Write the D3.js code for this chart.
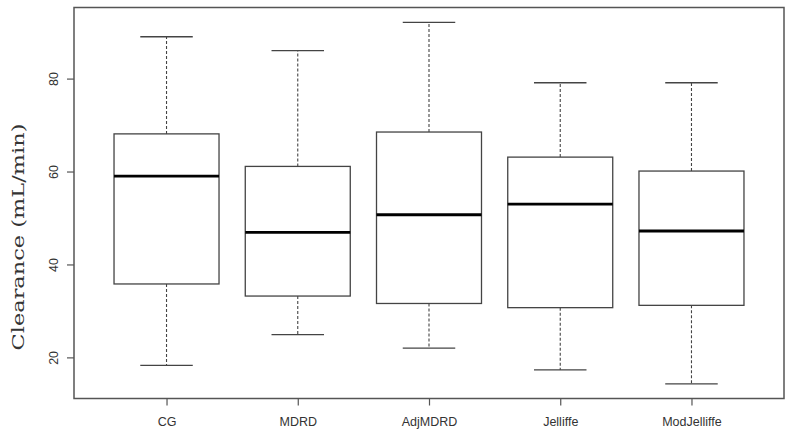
<!DOCTYPE html>
<html>
<head>
<meta charset="utf-8">
<script src="https://cdn.jsdelivr.net/npm/d3@7"></script>
<style>
  html, body { margin: 0; padding: 0; background: #fff; }
</style>
</head>
<body>
<svg id="chart"></svg>
<script>
// box statistics
const categories = ['CG', 'MDRD', 'AdjMDRD', 'Jelliffe', 'ModJelliffe'];
const mins    = [18.3, 24.9, 22.0, 17.3, 14.3];
const q1s     = [35.8, 33.2, 31.6, 30.7, 31.2];
const medians = [59.0, 46.9, 50.7, 53.0, 47.2];
const q3s     = [68.1, 61.1, 68.5, 63.1, 60.1];
const maxs    = [89.0, 86.0, 92.1, 79.1, 79.1];
const yTicks  = [20, 40, 60, 80];
const yLabel  = 'Clearance (mL/min)';

const width = 792, height = 434;
const margin = { top: 7.5, right: 8, bottom: 35.5, left: 74 };

const svg = d3.select('#chart')
    .attr('width', width)
    .attr('height', height);

const data = categories.map((c, i) => ({
    name: c, min: mins[i], q1: q1s[i], med: medians[i], q3: q3s[i], max: maxs[i]
}));

const x = d3.scalePoint()
    .domain(categories)
    .range([margin.left, width - margin.right])
    .padding(0.705);

const y = d3.scaleLinear()
    .domain([11.15, 95.3])
    .range([height - margin.bottom, margin.top]);

const boxW = x.step() * 0.8;
const capW = boxW * 0.5;
const lineCol = '#444';

const g = svg.append('g');

// whiskers (dashed)
g.selectAll('.whisker-up')
    .data(data)
    .join('line')
    .attr('x1', d => x(d.name)).attr('x2', d => x(d.name))
    .attr('y1', d => y(d.q3)).attr('y2', d => y(d.max))
    .attr('stroke', lineCol).attr('stroke-width', 1.1)
    .attr('stroke-dasharray', '3,2');

g.selectAll('.whisker-down')
    .data(data)
    .join('line')
    .attr('x1', d => x(d.name)).attr('x2', d => x(d.name))
    .attr('y1', d => y(d.q1)).attr('y2', d => y(d.min))
    .attr('stroke', lineCol).attr('stroke-width', 1.1)
    .attr('stroke-dasharray', '3,2');

// staples
['max', 'min'].forEach(k => {
    g.selectAll('.cap-' + k)
        .data(data)
        .join('line')
        .attr('x1', d => x(d.name) - capW / 2).attr('x2', d => x(d.name) + capW / 2)
        .attr('y1', d => y(d[k])).attr('y2', d => y(d[k]))
        .attr('stroke', lineCol).attr('stroke-width', 1.3);
});

// boxes
g.selectAll('.box')
    .data(data)
    .join('rect')
    .attr('x', d => x(d.name) - boxW / 2)
    .attr('width', boxW)
    .attr('y', d => y(d.q3))
    .attr('height', d => y(d.q1) - y(d.q3))
    .attr('fill', '#fff')
    .attr('stroke', lineCol).attr('stroke-width', 1.3);

// medians
g.selectAll('.median')
    .data(data)
    .join('line')
    .attr('x1', d => x(d.name) - boxW / 2).attr('x2', d => x(d.name) + boxW / 2)
    .attr('y1', d => y(d.med)).attr('y2', d => y(d.med))
    .attr('stroke', '#000').attr('stroke-width', 2.8);

// frame
svg.append('rect')
    .attr('x', margin.left).attr('y', margin.top)
    .attr('width', width - margin.right - margin.left)
    .attr('height', height - margin.bottom - margin.top)
    .attr('fill', 'none')
    .attr('stroke', '#555').attr('stroke-width', 1.5);

// y axis
const yAxis = svg.append('g')
    .attr('transform', `translate(${margin.left},0)`)
    .call(d3.axisLeft(y).tickValues(yTicks).tickSize(7));
yAxis.select('.domain').remove();
yAxis.selectAll('line').attr('stroke', '#555').attr('stroke-width', 1.2);
yAxis.selectAll('text')
    .attr('x', 0).attr('y', 0).attr('dy', '0.35em')
    .attr('text-anchor', 'middle')
    .attr('transform', 'translate(-20,0) rotate(-90)')
    .attr('font-family', 'Liberation Sans, Arial, sans-serif')
    .attr('font-size', 12.5)
    .attr('fill', '#333');

// x axis
const xAxis = svg.append('g')
    .attr('transform', `translate(0,${height - margin.bottom})`)
    .call(d3.axisBottom(x).tickSize(7));
xAxis.select('.domain').remove();
xAxis.selectAll('line').attr('stroke', '#555').attr('stroke-width', 1.2);
xAxis.selectAll('text')
    .attr('y', 27.5).attr('dy', null)
    .attr('font-family', 'Liberation Sans, Arial, sans-serif')
    .attr('font-size', 12.5)
    .attr('fill', '#333');

// y label, stretched along its length like the source image
const yl = svg.append('text')
    .attr('text-anchor', 'middle')
    .attr('font-family', 'DejaVu Serif, Liberation Serif, serif')
    .attr('font-size', 17)
    .attr('fill', '#333')
    .text(yLabel);
const natural = yl.node().getComputedTextLength();
yl.attr('transform', `translate(24,237) rotate(-90) scale(${227 / natural},1)`);
</script>
</body>
</html>
